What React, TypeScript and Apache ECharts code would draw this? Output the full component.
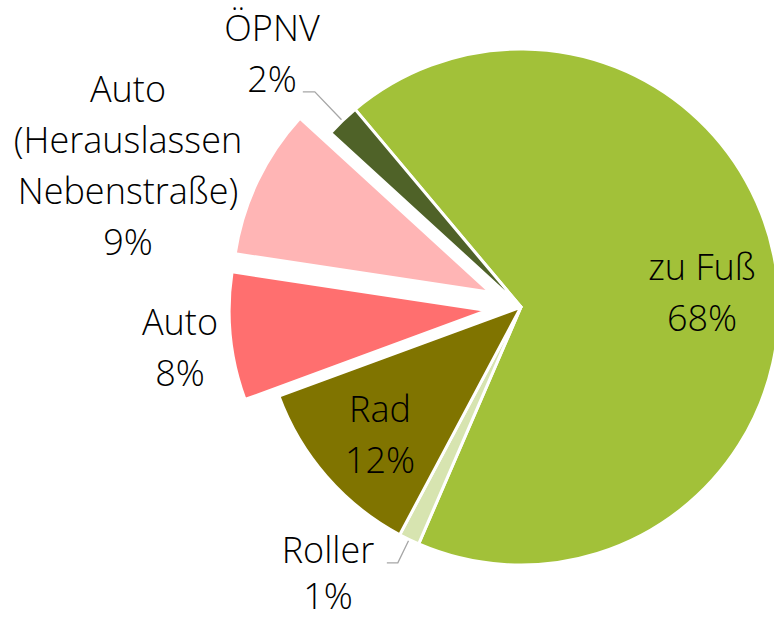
import React, { useEffect, useRef } from "react";
import * as echarts from "echarts";

// Data
const categories: string[] = [
  "zu Fuß",
  "Roller",
  "Rad",
  "Auto",
  "Auto\n(Herauslassen\nNebenstraße)",
  "ÖPNV",
];
const values: number[] = [67.6, 1.3, 11.6, 8.0, 9.4, 2.1];
const exploded: boolean[] = [false, false, false, true, true, false];

// Styles
const colors: string[] = ["#A2C139", "#D7E4B0", "#807400", "#FF6F6F", "#FFB5B5", "#4F6228"];
const labelOutside: boolean[] = [false, true, false, false, false, true];
const labelLineLen: (number[] | null)[] = [null, [26, 11], null, null, null, [40, 12]];
const labelLineHeights: number[] = [51, 46, 51, 51, 51, 51];
const labelCenters: number[][] = [
  [702, 292],
  [328, 572],
  [380, 434],
  [180, 347],
  [128, 165],
  [272, 53],
];

const CENTER = [521, 307];
const RADIUS = 258;
const START = 130;

export default function App() {
  const ref = useRef<HTMLDivElement>(null);
  useEffect(() => {
    if (!ref.current) return;
    const chart = echarts.init(ref.current, null, { renderer: "svg" });

    const baseLabel = {
      formatter: "{b}\n{d}%",
      fontFamily: "Open Sans",
      fontWeight: 300,
      fontSize: 36,
      lineHeight: 51,
      color: "#000000",
      overflow: "none",
    };

    const layoutFn = (params: any) => {
      const i = params.dataIndex;
      const out: any = {
        x: labelCenters[i][0],
        y: labelCenters[i][1],
        align: "center",
        verticalAlign: "middle",
      };
      if (labelLineLen[i] && params.labelLinePoints) {
        out.labelLinePoints = params.labelLinePoints;
      }
      return out;
    };

    // Main series: slices (exploded ones offset), labels of non-exploded slices
    const mainData = categories.map((name, i) => ({
      name,
      value: values[i],
      selected: exploded[i],
      itemStyle: { color: colors[i] },
      label: exploded[i]
        ? { show: false }
        : {
            show: true,
            position: labelOutside[i] ? "outside" : "inside",
            lineHeight: labelLineHeights[i],
          },
      labelLine: labelLineLen[i]
        ? { show: true, length: labelLineLen[i]![0], length2: labelLineLen[i]![1] }
        : { show: false },
    }));

    // Overlay series (invisible slices) carrying labels of exploded slices
    const overlayData = categories.map((name, i) => ({
      name,
      value: values[i],
      itemStyle: { color: "rgba(0,0,0,0)", borderWidth: 0 },
      label: exploded[i]
        ? { show: true, position: "inside", lineHeight: labelLineHeights[i] }
        : { show: false },
      labelLine: { show: false },
    }));

    chart.setOption({
      animation: false,
      backgroundColor: "#ffffff",
      series: [
        {
          type: "pie",
          center: CENTER,
          radius: RADIUS,
          startAngle: START,
          clockwise: true,
          selectedMode: "multiple",
          selectedOffset: 34,
          avoidLabelOverlap: false,
          emphasis: { disabled: true },
          itemStyle: { borderColor: "#ffffff", borderWidth: 3 },
          label: { show: true, ...baseLabel },
          percentPrecision: 0,
          labelLine: {
            lineStyle: { color: "#A6A6A6", width: 1.3 },
            smooth: false,
          },
          labelLayout: layoutFn,
          data: mainData,
        },
        {
          type: "pie",
          silent: true,
          center: CENTER,
          radius: RADIUS,
          startAngle: START,
          clockwise: true,
          avoidLabelOverlap: false,
          emphasis: { disabled: true },
          label: { show: true, ...baseLabel },
          percentPrecision: 0,
          labelLayout: layoutFn,
          data: overlayData,
        },
      ],
    });
    return () => chart.dispose();
  }, []);
  return (
    <div
      ref={ref}
      style={{ position: "fixed", left: 0, top: 0, width: 774, height: 619 }}
    />
  );
}
